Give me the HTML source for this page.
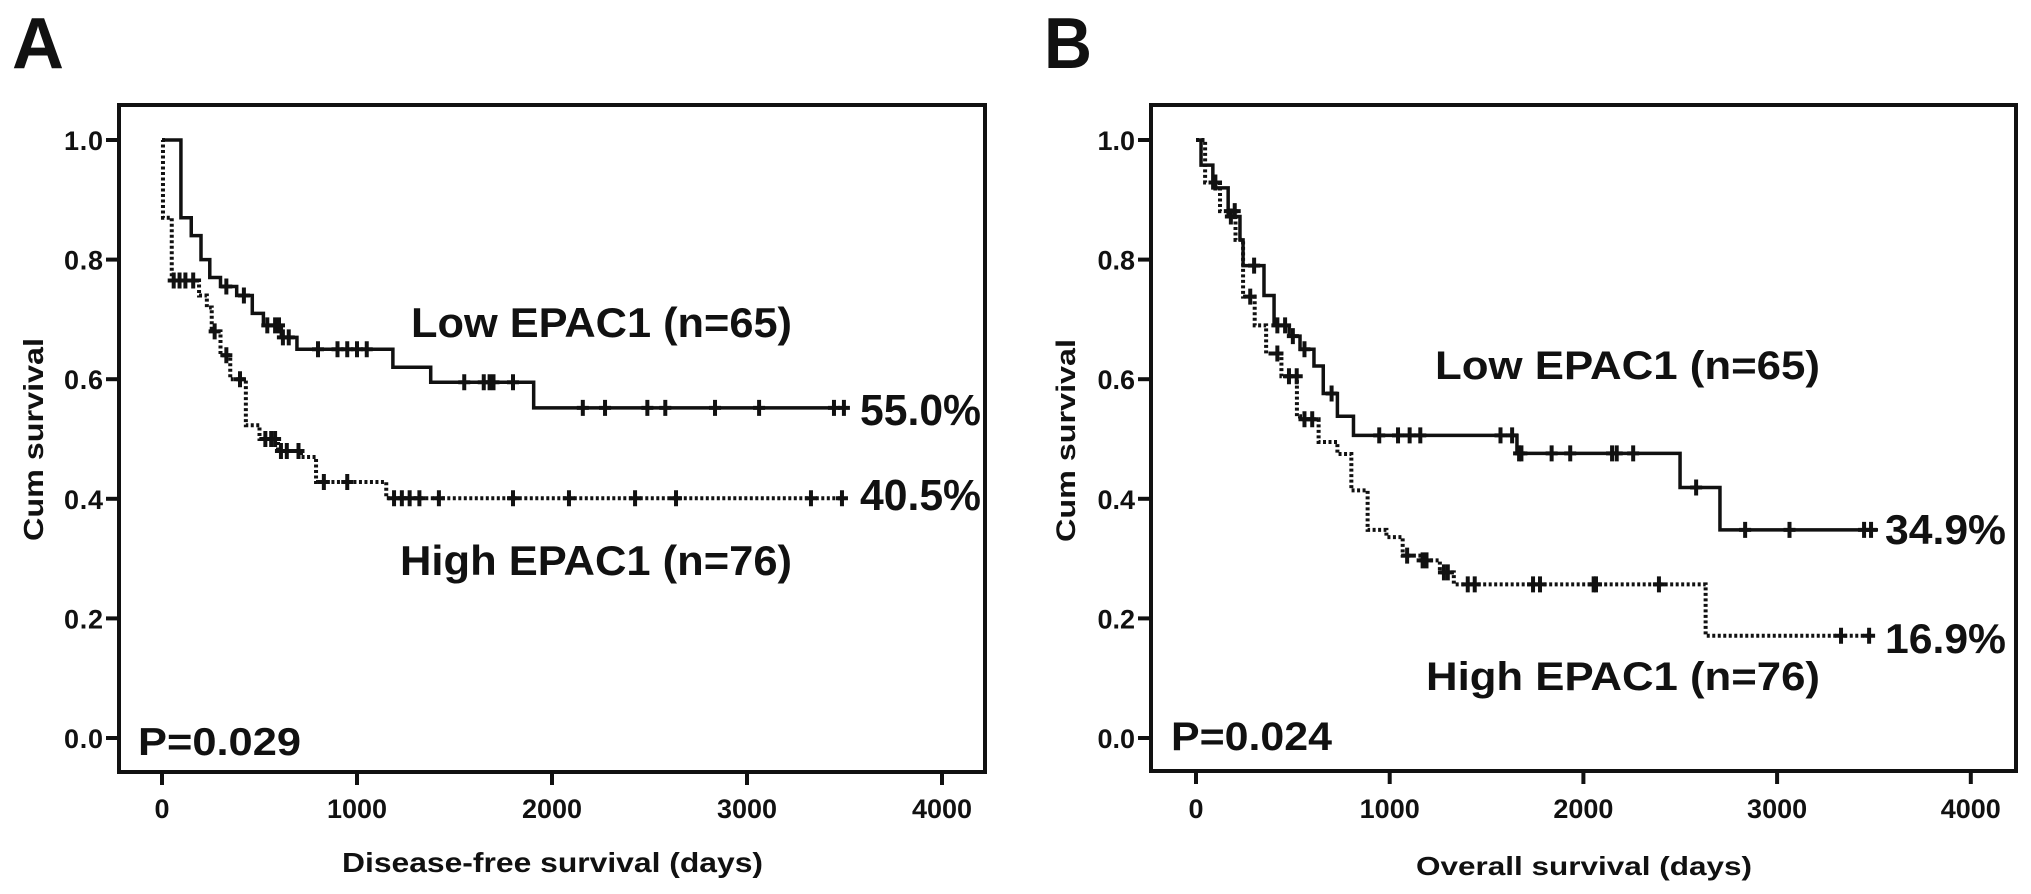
<!DOCTYPE html>
<html><head><meta charset="utf-8"><style>
html,body{margin:0;padding:0;background:#fff;}
svg{display:block;}
text{font-family:"Liberation Sans",sans-serif;font-weight:bold;fill:#111;}
</style></head><body>
<svg id="fig" width="2031" height="894" viewBox="0 0 2031 894" xmlns="http://www.w3.org/2000/svg">
<g id="gA"></g>
<g id="gB"></g>
</svg>
<script>
// ---------- Panel A data (disease-free survival) ----------
const aLowTimes = [0,97,150,200,245,300,383,463,520,612,692,1184,1378,1906,3500];
const aLowSurv  = [1.0,0.87,0.84,0.80,0.77,0.755,0.74,0.71,0.69,0.67,0.65,0.62,0.595,0.552,0.552];
const aLowCensorT = [330,420,540,580,600,620,650,800,900,950,1000,1050,1550,1650,1680,1700,1800,2158,2272,2489,2581,2836,3062,3446,3497];
const aHighTimes = [0,5,50,190,230,255,300,350,430,500,595,713,790,1150,3490];
const aHighSurv  = [1.0,0.87,0.765,0.74,0.72,0.68,0.64,0.60,0.523,0.50,0.48,0.47,0.428,0.401,0.401];
const aHighCensorT = [60,90,120,160,270,330,400,530,560,580,610,640,700,830,950,1190,1230,1270,1320,1420,1800,2087,2426,2636,3328,3487];
// ---------- Panel B data (overall survival) ----------
const bLowTimes = [0,26,87,166,227,243,351,403,481,537,609,657,730,813,1657,2499,2705,3521];
const bLowSurv  = [1.0,0.958,0.92,0.872,0.833,0.79,0.74,0.69,0.672,0.65,0.622,0.576,0.538,0.506,0.476,0.419,0.348,0.348];
const bLowCensorT = [180,300,420,460,500,560,700,946,1043,1103,1158,1572,1632,1668,1680,1836,1932,2148,2172,2257,2582,2835,3064,3449,3485];
const bHighTimes = [0,47,124,204,243,303,362,441,521,537,633,730,802,886,983,1067,1163,1259,1331,2631,3485];
const bHighSurv  = [1.0,0.929,0.881,0.833,0.738,0.69,0.643,0.605,0.538,0.533,0.495,0.475,0.414,0.348,0.336,0.305,0.297,0.277,0.257,0.171,0.171];
const bHighCensorT = [100,200,280,420,480,520,560,600,1090,1170,1190,1280,1300,1403,1439,1740,1776,2053,2065,2390,3330,3475];
const yTicks = [0.0,0.2,0.4,0.6,0.8,1.0];
const yTickLabels = ["0.0","0.2","0.4","0.6","0.8","1.0"];
const xTicks = [0,1000,2000,3000,4000];
const xTickLabels = ["0","1000","2000","3000","4000"];

const NS="http://www.w3.org/2000/svg";
function mk(tag, attrs, parent){const e=document.createElementNS(NS,tag);for(const k in attrs)e.setAttribute(k,attrs[k]);parent.appendChild(e);return e;}
function txt(parent,str,x,y,size,extra){const t=mk('text',Object.assign({x:x,y:y,'font-size':size},extra||{}),parent);t.textContent=str;return t;}

function stepY(times,surv,t){let v=surv[0];for(let i=0;i<times.length;i++){if(times[i]<=t)v=surv[i];}return v;}

function drawPanel(g,cfg){
  const X=t=>cfg.x0+t*cfg.kx, Y=s=>cfg.y0-s*cfg.ky;
  const box=mk('rect',{x:cfg.left,y:cfg.top,width:cfg.right-cfg.left,height:cfg.bottom-cfg.top,fill:'none',stroke:'#111','stroke-width':4},g);
  
  
  yTicks.forEach((v,i)=>{
    const l=mk('line',{x1:cfg.left-13,x2:cfg.left,y1:Y(v),y2:Y(v),stroke:'#111','stroke-width':4},g);
    
    
    const t=txt(g,yTickLabels[i],cfg.left-16,Y(v)+10,cfg.tickSize,{'text-anchor':'end'});
    if(cfg.narrow)t.setAttribute('textLength',39);
    
    
  });
  xTicks.forEach((v,i)=>{
    const l=mk('line',{x1:X(v),x2:X(v),y1:cfg.bottom,y2:cfg.bottom+13,stroke:'#111','stroke-width':4},g);
    
    
    const t=txt(g,xTickLabels[i],X(v),818,cfg.tickSize,{'text-anchor':'middle'});
    
    
  });
  function curve(times,surv,cens,dashed,name){
    let d='M'+X(times[0])+' '+Y(surv[0]);
    for(let i=1;i<times.length;i++){d+=' H'+X(times[i])+' V'+Y(surv[i]);}
    const p=mk('path',{d:d,fill:'none',stroke:'#111','stroke-width':dashed?4:3.5,'stroke-dasharray':dashed?'3 2.5':'none'},g);
    
    
    cens.forEach(t=>{
      const s=stepY(times,surv,t);
      const c=mk('path',{d:'M'+X(t)+' '+(Y(s)-8)+' V'+(Y(s)+8)+' M'+(X(t)-6)+' '+Y(s)+' H'+(X(t)+6),fill:'none',stroke:'#111','stroke-width':4},g);
      
      
    });
  }
  curve(cfg.low[0],cfg.low[1],cfg.low[2],false,'low-epac1');
  curve(cfg.high[0],cfg.high[1],cfg.high[2],true,'high-epac1');
}

const gA=document.getElementById('gA'), gB=document.getElementById('gB');
drawPanel(gA,{x0:162,kx:0.195,y0:738,ky:598,left:119,right:985,top:105,bottom:772,tickSize:27,narrow:true,
  low:[aLowTimes,aLowSurv,aLowCensorT],high:[aHighTimes,aHighSurv,aHighCensorT]});
drawPanel(gB,{x0:1196,kx:0.1937,y0:738,ky:598,left:1151,right:2016,top:105,bottom:771,tickSize:27,narrow:false,
  low:[bLowTimes,bLowSurv,bLowCensorT],high:[bHighTimes,bHighSurv,bHighCensorT]});

function label(g,str,x,y,size,w,name,extra){
  const t=txt(g,str,x,y,size,Object.assign({textLength:w,lengthAdjust:'spacingAndGlyphs'},extra||{}));
  
  
  return t;
}
label(gA,'A',12,68,72,52,'panel-a-letter');
label(gA,'Low EPAC1 (n=65)',411,337,42,381,'low-epac1-label');
label(gA,'High EPAC1 (n=76)',400,575,42,392,'high-epac1-label');
label(gA,'55.0%',860,425,44,121,'low-epac1-final-value');
label(gA,'40.5%',860,510,44,121,'high-epac1-final-value');
label(gA,'P=0.029',138,755,39,163,'p-value');
label(gA,'Disease-free survival (days)',342,872,28,421,'x-axis-title');
label(gA,'Cum survival',0,0,28,203,'y-axis-title',{transform:'translate(43,541) rotate(-90)'});
label(gB,'B',1044,68,72,48,'panel-b-letter');
label(gB,'Low EPAC1 (n=65)',1435,379,40,385,'low-epac1-label');
label(gB,'High EPAC1 (n=76)',1426,690,40,394,'high-epac1-label');
label(gB,'34.9%',1885,544,42,121,'low-epac1-final-value');
label(gB,'16.9%',1885,653,42,121,'high-epac1-final-value');
label(gB,'P=0.024',1171,750,40,161,'p-value');
label(gB,'Overall survival (days)',1416,875,26,336,'x-axis-title');
label(gB,'Cum survival',0,0,27,203,'y-axis-title',{transform:'translate(1075,542) rotate(-90)'});
</script>
</body></html>
